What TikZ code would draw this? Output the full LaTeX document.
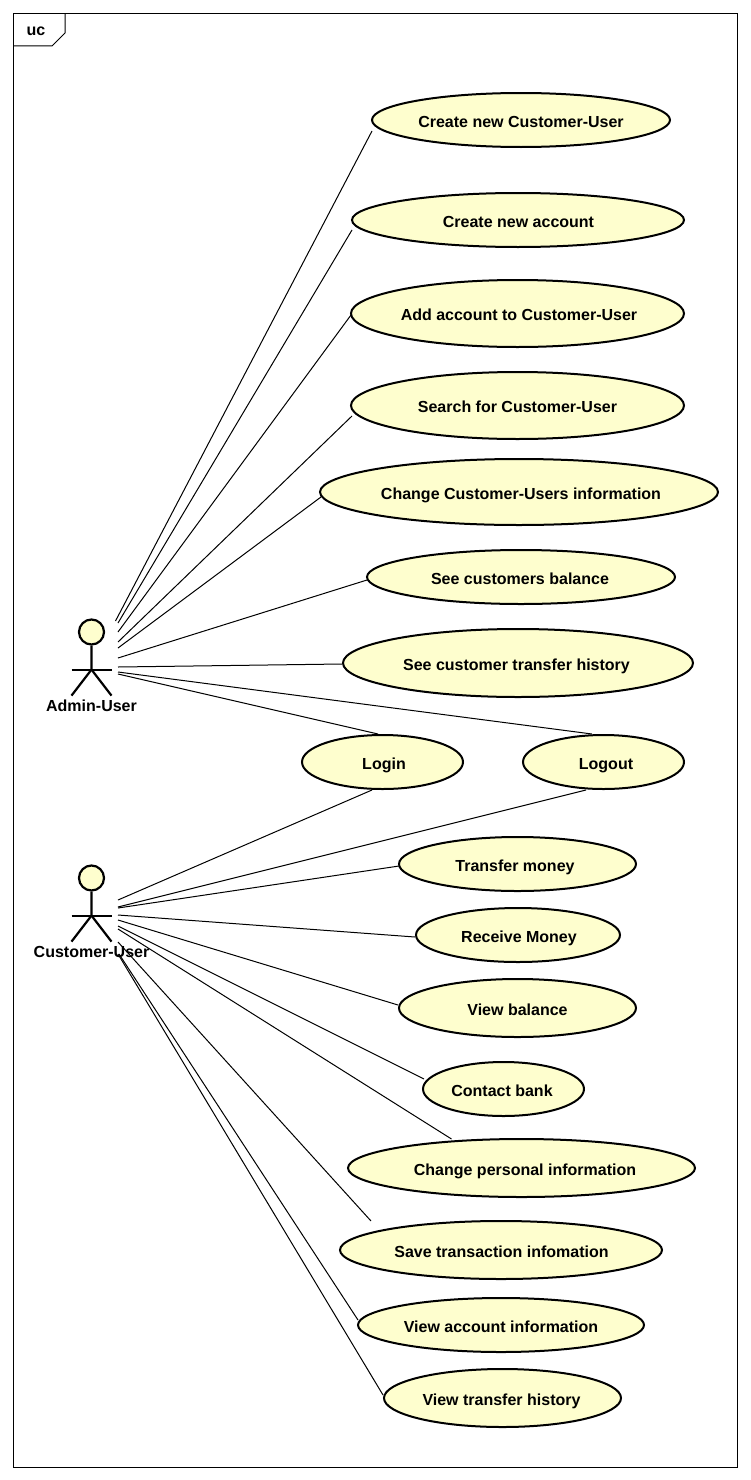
\documentclass[tikz,border=0pt]{standalone}
\usepackage{fontspec}
\setmainfont{Liberation Sans}
\usetikzlibrary{shapes.geometric}
\definecolor{ucfill}{HTML}{FEFECE}
\tikzset{
  usecase/.style={ellipse, draw=black, fill=ucfill, line width=2pt, inner sep=0pt, font=\bfseries\fontsize{16}{18}\selectfont, text height=17pt, text depth=3pt},
  actorhead/.style={circle, draw=black, fill=ucfill, line width=2.2pt, inner sep=0pt, minimum size=25pt},
  actorline/.style={line width=2.2pt},
  actorlabel/.style={font=\bfseries\fontsize{16}{18}\selectfont, inner sep=0pt},
  assoc/.style={line width=1pt}
}
\begin{document}
\begin{tikzpicture}[x=1pt, y=-1pt]
  \useasboundingbox (0,0) rectangle (750,1480);

  % frame
  \draw[line width=1pt] (13.5,13.5) rectangle (737,1467);
  \draw[line width=1pt] (13.5,46) -- (52,46) -- (65,33) -- (65,13.5);
  \node[actorlabel] (ucTitle) at (36,31.5) {uc};

  % actors
  \foreach \nm/\y/\lab in {admin/632/Admin-User, customer/878/Customer-User} {
    \node[actorhead] (\nm Head) at (91.5,\y) {};
    \draw[actorline] (\nm Head.south) -- ++(0,24) coordinate (\nm Hip) -- ++(-20,26);
    \draw[actorline] (\nm Hip) -- ++(20,26);
    \draw[actorline] ([xshift=-20pt,yshift=-8pt]\nm Head.south) ++(0,16) -- ++(40,0);
    \node[actorlabel] (\nm Label) at (91.5,\y+73.7) {\lab};
  }

  % use cases
  \foreach \nm/\cx/\cy/\w/\h/\dx/\txt in {
    newCustomer/521/120/298/54/0/Create new Customer-User,
    newAccount/518/220/332/54/1/Create new account,
    addAccount/517.5/313.5/333/67/3/Add account to Customer-User,
    searchCustomer/517.5/405.5/333/67/0/Search for Customer-User,
    changeCustomer/519/492/398/66/4/Change Customer-Users information,
    seeBalance/521/577/308/54/-2/See customers balance,
    seeHistory/518/663/350/68/-3/See customer transfer history,
    login/382.5/762/161/54/3/Login,
    logout/603.5/762/161/54/5/Logout,
    transferMoney/517.5/864/237/54/-5/Transfer money,
    receiveMoney/518/935/204/54/2/Receive Money,
    viewBalance/517.5/1008/237/58/0/View balance,
    contactBank/503.5/1089/161/54/-3/Contact bank,
    changePersonal/521.5/1168/347/58/7/Change personal information,
    saveTransaction/501/1250/322/58/1/Save transaction infomation,
    viewAccount/501/1325/286/54/0/View account information,
    viewTransfer/502.5/1398/237/58/-2/View transfer history} {
    \node[usecase, minimum width=\w pt, minimum height=\h pt] (\nm) at (\cx,\cy) {\makebox[0pt]{\hspace*{\dx pt}\txt}};
  }

  % free ends near the actors
  \foreach \n/\x/\y in {a/115.5/621, b/118/623, c/118/632, d/118/642, e/118/648, f/118/658, g/118/667, h/118/672, i/118/674} {
    \coordinate (admin\n) at (\x,\y);
  }
  \foreach \n/\x/\y in {a/118/900, b/118/907, c/118/908, d/118/915, e/118/920, f/118/926, g/118/929, h/118/942, i/119/954, j/118/954} {
    \coordinate (customer\n) at (\x,\y);
  }

  % associations
  \foreach \from/\to/\sx/\sy in {admina/newCustomer.west/1/11, adminb/newAccount.west/1/10, adminc/addAccount.west/1/1.5,
    admind/searchCustomer.west/2/10.5, admine/changeCustomer.west/2/5, adminf/seeBalance.west/1/3,
    adming/seeHistory.west/0/1, adminh/logout.north/-11.5/0, admini/login.north/-4.5/0,
    customera/login.south/-10.5/0, customerb/logout.south/-17.5/0, customerc/transferMoney.west/1/2,
    customerd/receiveMoney.west/0/2, customere/viewBalance.west/0/-3, customerf/contactBank.west/2/-10,
    customerg/changePersonal.north/-70/1, customerh/saveTransaction.north/-130/1, customeri/viewAccount.west/1/-5, customerj/viewTransfer.west/0/-3} {
    \draw[assoc] (\from) -- ([shift={(\sx,\sy)}]\to);
  }
\end{tikzpicture}
\end{document}
